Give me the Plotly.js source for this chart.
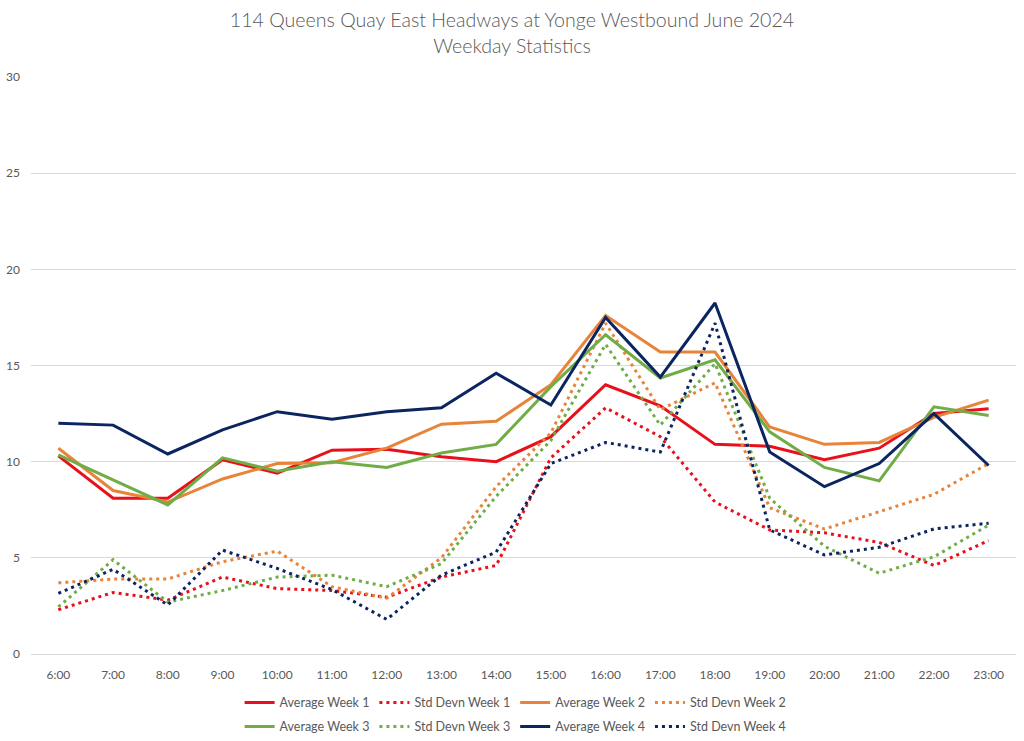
<!DOCTYPE html>
<html>
<head>
<meta charset="utf-8">
<script src="https://cdn.plot.ly/plotly-3.0.1.min.js"></script>
<style>html,body{margin:0;padding:0;background:#fff;}#chart{width:1024px;height:741px;}</style>
</head>
<body>
<div id="chart"></div>
<script>
const hours = ["6:00","7:00","8:00","9:00","10:00","11:00","12:00","13:00","14:00","15:00","16:00","17:00","18:00","19:00","20:00","21:00","22:00","23:00"];
const avgWeek1 = [10.3, 8.1, 8.1, 10.1, 9.4, 10.6, 10.65, 10.25, 10.0, 11.3, 14.0, 12.9, 10.9, 10.8, 10.1, 10.7, 12.5, 12.75];
const sdWeek1  = [2.3, 3.2, 2.8, 4.0, 3.4, 3.3, 2.95, 4.0, 4.6, 10.2, 12.8, 11.3, 7.9, 6.45, 6.3, 5.8, 4.6, 5.9];
const avgWeek2 = [10.7, 8.5, 7.9, 9.1, 9.9, 9.95, 10.7, 11.95, 12.1, 14.0, 17.6, 15.7, 15.7, 11.8, 10.9, 11.0, 12.3, 13.2];
const sdWeek2  = [3.7, 3.9, 3.9, 4.8, 5.35, 3.5, 2.9, 5.0, 8.7, 11.5, 17.2, 12.7, 14.1, 7.6, 6.5, 7.4, 8.3, 9.9];
const avgWeek3 = [10.35, 9.05, 7.75, 10.2, 9.5, 10.0, 9.7, 10.45, 10.9, 13.9, 16.6, 14.35, 15.3, 11.55, 9.7, 9.0, 12.85, 12.4];
const sdWeek3  = [2.45, 4.9, 2.7, 3.3, 4.0, 4.1, 3.5, 4.7, 8.2, 11.1, 16.1, 11.9, 15.1, 8.1, 5.6, 4.2, 5.05, 6.7];
const avgWeek4 = [12.0, 11.9, 10.4, 11.65, 12.6, 12.2, 12.6, 12.8, 14.6, 12.95, 17.5, 14.4, 18.25, 10.5, 8.7, 9.9, 12.5, 9.8];
const sdWeek4  = [3.15, 4.4, 2.55, 5.4, 4.45, 3.35, 1.8, 4.1, 5.3, 9.9, 11.0, 10.5, 17.2, 6.45, 5.15, 5.55, 6.5, 6.8];

const names = ["Average Week 1","Std Devn Week 1","Average Week 2","Std Devn Week 2","Average Week 3","Std Devn Week 3","Average Week 4","Std Devn Week 4"];
const series = [avgWeek1, sdWeek1, avgWeek2, sdWeek2, avgWeek3, sdWeek3, avgWeek4, sdWeek4];
const colors = ["#E8101A","#E8101A","#E8833A","#E8833A","#70AD47","#70AD47","#0B2560","#0B2560"];

const traces = series.map((vals, i) => ({
  type: 'scatter',
  mode: 'lines',
  name: names[i],
  x: hours,
  y: vals,
  line: {color: colors[i], width: 3, dash: (i % 2 === 1) ? '3px,4px' : 'solid'},
  legend: i < 4 ? 'legend' : 'legend2',
  hoverinfo: 'x+y+name'
}));

const fontFam = 'Lato, "Open Sans", sans-serif';
const legendCommon = {
  orientation: 'h', xanchor: 'center', yanchor: 'middle', x: 0.492, yref: 'container',
  font: {family: fontFam, size: 12.5, color: '#595959'},
  bgcolor: 'rgba(0,0,0,0)', traceorder: 'normal', itemwidth: 30
};

const layout = {
  width: 1024, height: 741,
  margin: {l: 31, r: 8, t: 77, b: 87, autoexpand: false},
  paper_bgcolor: '#ffffff', plot_bgcolor: '#ffffff',
  font: {family: fontFam, color: '#595959'},
  title: {
    text: '114 Queens Quay East Headways at Yonge Westbound June 2024<br>Weekday Statistics',
    font: {family: fontFam, size: 19.6, color: '#595959', weight: 300},
    x: 0.5, xanchor: 'center', y: 0.963, yanchor: 'top'
  },
  xaxis: {
    type: 'category', range: [-0.5, 17.5],
    showgrid: false, showline: true, linecolor: '#D9D9D9', linewidth: 1,
    ticks: '', tickfont: {family: fontFam, size: 12, color: '#595959'},
    ticklabelstandoff: 10,
    zeroline: false, fixedrange: true
  },
  yaxis: {
    range: [0, 30], dtick: 5, tick0: 0,
    showgrid: true, gridcolor: '#D9D9D9', gridwidth: 1,
    zeroline: false, showline: false, ticks: '',
    tickfont: {family: fontFam, size: 12, color: '#595959'},
    ticklabelstandoff: 10, fixedrange: true
  },
  legend: Object.assign({}, legendCommon, {y: 0.0513}),
  legend2: Object.assign({}, legendCommon, {y: 0.0189}),
  showlegend: true
};

Plotly.newPlot('chart', traces, layout, {displayModeBar: false, staticPlot: true});
</script>
</body>
</html>
